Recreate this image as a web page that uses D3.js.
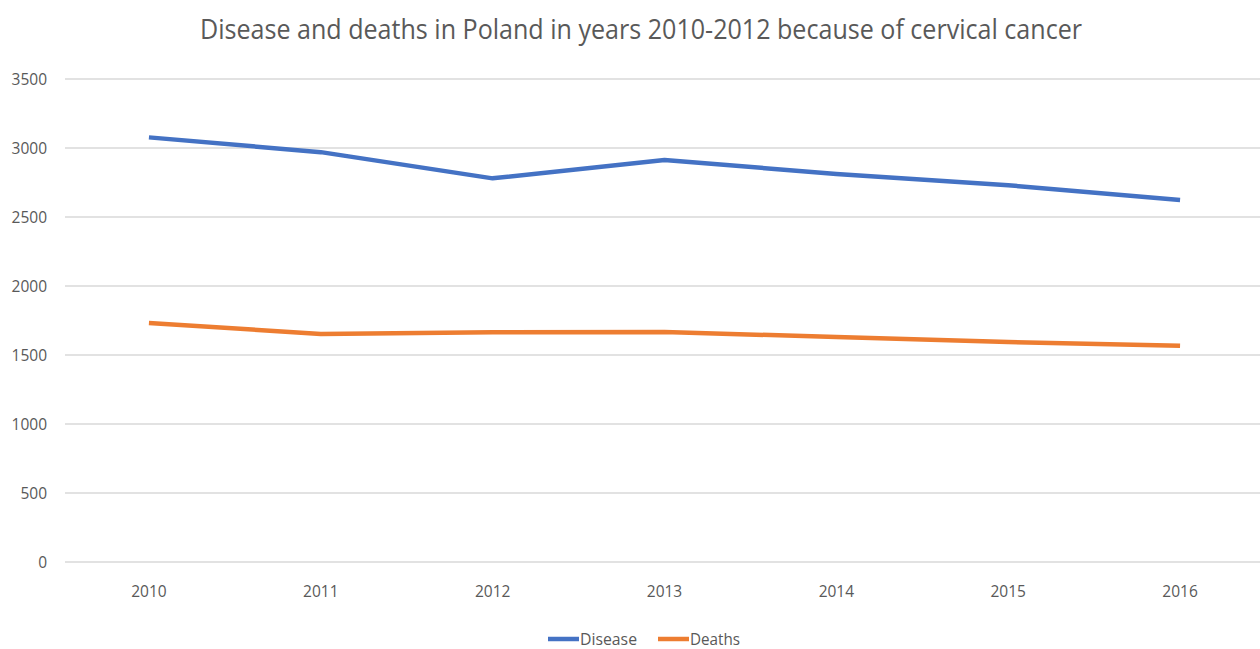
<!DOCTYPE html>
<html>
<head>
<meta charset="utf-8">
<script src="https://cdn.jsdelivr.net/npm/d3@7"></script>
<style>
  html, body { margin: 0; padding: 0; background: #ffffff; }
  svg { display: block; }
  text { font-family: "Open Sans", "DejaVu Sans", sans-serif; }
</style>
</head>
<body>
<svg id="chart" width="1260" height="649"></svg>
<script>
// Chart data
const years = ["2010", "2011", "2012", "2013", "2014", "2015", "2016"];
const disease = [3077, 2970, 2780, 2913, 2812, 2730, 2623];
const deaths = [1732, 1652, 1665, 1667, 1630, 1594, 1567];
const yTicks = [0, 500, 1000, 1500, 2000, 2500, 3000, 3500];
const seriesNames = ["Disease", "Deaths"];
const seriesColors = ["#4472C4", "#ED7D31"];
const titleText = "Disease and deaths in Poland in years 2010-2012 because of cervical cancer";

const svg = d3.select("#chart");
const W = 1260, H = 649;
const margin = { left: 63, right: -6, top: 79, bottom: 87 };

const x = d3.scaleBand()
  .domain(years)
  .range([margin.left, W - margin.right]);

const y = d3.scaleLinear()
  .domain([0, 3500])
  .range([H - margin.bottom, margin.top]);

// Title
svg.append("text")
  .attr("x", 641)
  .attr("y", 39)
  .attr("text-anchor", "middle")
  .attr("fill", "#595959")
  .attr("font-size", 27)
  .attr("textLength", 882)
  .attr("lengthAdjust", "spacingAndGlyphs")
  .text(titleText);

// Horizontal gridlines
svg.append("g")
  .selectAll("line")
  .data(yTicks)
  .join("line")
  .attr("x1", 65)
  .attr("x2", W)
  .attr("y1", d => y(d))
  .attr("y2", d => y(d))
  .attr("stroke", "#d9d9d9")
  .attr("stroke-width", 1.5);

// Y axis labels
const yAxis = d3.axisLeft(y).tickValues(yTicks).tickFormat(d3.format("d")).tickSize(0).tickPadding(0);
svg.append("g")
  .attr("transform", "translate(47,0)")
  .call(yAxis)
  .call(g => g.select(".domain").remove())
  .call(g => g.selectAll("text")
    .attr("fill", "#595959")
    .attr("font-size", 15.5)
    .attr("dy", "0.35em"));

// X axis labels
const xAxis = d3.axisBottom(x).tickSize(0).tickPadding(0);
svg.append("g")
  .attr("transform", "translate(0,586)")
  .call(xAxis)
  .call(g => g.select(".domain").remove())
  .call(g => g.selectAll("text")
    .attr("fill", "#595959")
    .attr("font-size", 15.5)
    .attr("dy", "0.71em"));

// Series lines
const line = d3.line()
  .x((d, i) => x(years[i]) + x.bandwidth() / 2)
  .y(d => y(d));

[disease, deaths].forEach((vals, i) => {
  svg.append("path")
    .datum(vals)
    .attr("fill", "none")
    .attr("stroke", seriesColors[i])
    .attr("stroke-width", 4.5)
    .attr("stroke-linejoin", "round")
    .attr("stroke-linecap", "butt")
    .attr("d", line);
});

// Legend
const legendItems = [
  { name: seriesNames[0], color: seriesColors[0], x: 548, w: 57 },
  { name: seriesNames[1], color: seriesColors[1], x: 658, w: 50 }
];
const legend = svg.append("g");
legendItems.forEach(it => {
  legend.append("line")
    .attr("x1", it.x).attr("x2", it.x + 31)
    .attr("y1", 639).attr("y2", 639)
    .attr("stroke", it.color)
    .attr("stroke-width", 4.5);
  legend.append("text")
    .attr("x", it.x + 32)
    .attr("y", 639)
    .attr("dy", "0.35em")
    .attr("fill", "#595959")
    .attr("font-size", 16)
    .attr("textLength", it.w)
    .attr("lengthAdjust", "spacingAndGlyphs")
    .text(it.name);
});
</script>
</body>
</html>
